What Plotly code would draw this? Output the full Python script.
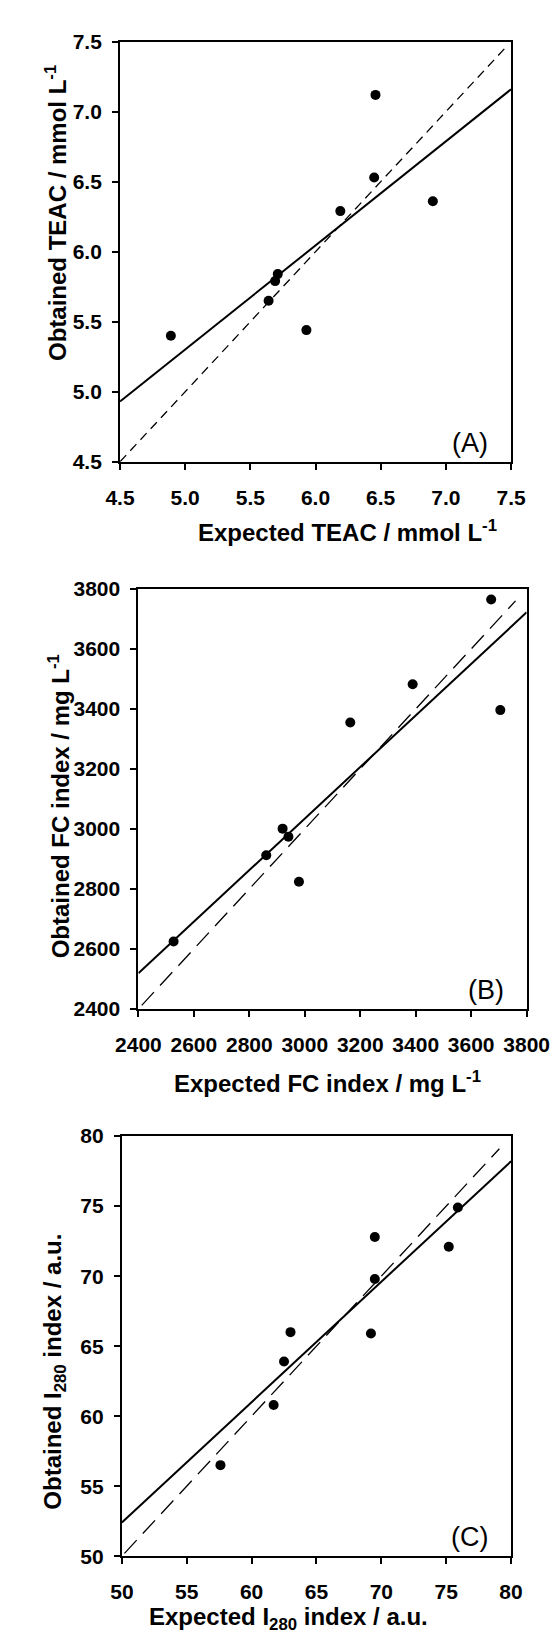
"""
Obtained vs expected values for three indices (TEAC, FC, I280).
"""

import plotly.graph_objects as go

# panel A: TEAC / mmol L-1
teac_expected = [4.89, 5.64, 5.69, 5.71, 5.93, 6.19, 6.45, 6.46, 6.90]
teac_obtained = [5.40, 5.65, 5.79, 5.84, 5.44, 6.29, 6.53, 7.12, 6.36]
teac_fit_x = [4.5, 7.5]
teac_fit_y = [4.93, 7.16]
teac_ref = [4.5, 7.45]

# panel B: FC index / mg L-1
fc_expected = [2527, 2861, 2920, 2941, 2979, 3164, 3389, 3672, 3705]
fc_obtained = [2625, 2912, 3001, 2974, 2824, 3355, 3482, 3765, 3396]
fc_fit_x = [2400, 3800]
fc_fit_y = [2519, 3722]
fc_ref = [2412, 3760]

# panel C: I280 index / a.u.
i280_expected = [57.6, 61.7, 62.5, 63.0, 69.2, 69.5, 69.5, 75.2, 75.9]
i280_obtained = [56.5, 60.8, 63.9, 66.0, 65.9, 69.8, 72.8, 72.1, 74.9]
i280_fit_x = [50, 80]
i280_fit_y = [52.4, 78.2]
i280_ref = [50.2, 79.1]

W, H = 560, 1641
FONT = "Liberation Sans, Arial, sans-serif"

# plot areas in pixels: (left, right, top, bottom)
BOXES = [(97, 523, 22, 448), (117, 540, 577, 1003), (99, 523, 1132, 1558)]
# axis title positions in pixels: x title (cx, cy), y title (cx, cy)
XTITLE_POS = [(345, 518), (323, 1077), (280, 1621)]
YTITLE_POS = [(27, 196), (30, 798), (26, 1371)]

PANELS = [
    dict(x=teac_expected, y=teac_obtained, fx=teac_fit_x, fy=teac_fit_y, ref=teac_ref,
         rng=[4.5, 7.5], dtick=0.5, fmt=".1f", dash="9px,6px", label="(A)",
         xtitle="Expected TEAC / mmol L<sup>-1</sup>",
         ytitle="Obtained TEAC / mmol L<sup>-1</sup>"),
    dict(x=fc_expected, y=fc_obtained, fx=fc_fit_x, fy=fc_fit_y, ref=fc_ref,
         rng=[2400, 3800], dtick=200, fmt="d", dash="18px,9px", label="(B)",
         xtitle="Expected FC index / mg L<sup>-1</sup>",
         ytitle="Obtained FC index / mg L<sup>-1</sup>"),
    dict(x=i280_expected, y=i280_obtained, fx=i280_fit_x, fy=i280_fit_y, ref=i280_ref,
         rng=[50, 80], dtick=5, fmt="d", dash="18px,9px", label="(C)",
         xtitle="Expected I<sub>280</sub> index / a.u.",
         ytitle="Obtained I<sub>280</sub> index / a.u."),
]

AXIS = dict(
    showline=True,
    linewidth=2,
    linecolor="black",
    mirror=True,
    ticks="outside",
    ticklen=6,
    tickwidth=2,
    tickcolor="black",
    showgrid=False,
    zeroline=False,
    tickfont=dict(family=FONT, size=21, color="black", weight="bold"),
)
TITLE_FONT = dict(family=FONT, size=24, color="black", weight="bold")

fig = go.Figure()
layout = {}

for i, (p, box) in enumerate(zip(PANELS, BOXES)):
    n = "" if i == 0 else str(i + 1)
    xa, ya = "x" + n, "y" + n
    left, right, top, bottom = box

    # 1:1 reference line
    fig.add_trace(go.Scatter(x=p["ref"], y=p["ref"], mode="lines", xaxis=xa, yaxis=ya,
                             line=dict(color="black", width=1.3, dash=p["dash"])))
    # regression line
    fig.add_trace(go.Scatter(x=p["fx"], y=p["fy"], mode="lines", xaxis=xa, yaxis=ya,
                             line=dict(color="black", width=2)))
    fig.add_trace(go.Scatter(x=p["x"], y=p["y"], mode="markers", xaxis=xa, yaxis=ya,
                             marker=dict(color="black", size=10)))

    layout["xaxis" + n] = dict(
        AXIS, domain=[left / W, right / W], anchor=ya, range=p["rng"],
        dtick=p["dtick"], tick0=p["rng"][0], tickformat=p["fmt"], ticklabelstandoff=10,
    )
    layout["yaxis" + n] = dict(
        AXIS, domain=[1 - bottom / H, 1 - top / H], anchor=xa, range=p["rng"],
        dtick=p["dtick"], tick0=p["rng"][0], tickformat=p["fmt"], ticklabelstandoff=6,
    )

    # axis titles placed by hand, they are not centred on the plot area
    cx, cy = XTITLE_POS[i]
    fig.add_annotation(text=p["xtitle"], xref="paper", yref="paper", x=cx / W, y=1 - cy / H,
                       xanchor="center", yanchor="middle", showarrow=False, font=TITLE_FONT)
    cx, cy = YTITLE_POS[i]
    fig.add_annotation(text=p["ytitle"], xref="paper", yref="paper", x=cx / W, y=1 - cy / H,
                       xanchor="center", yanchor="middle", textangle=-90, showarrow=False,
                       font=TITLE_FONT)

    fig.add_annotation(text=p["label"], xref=xa + " domain", yref=ya + " domain",
                       x=0.946, y=0.005, xanchor="right", yanchor="bottom", showarrow=False,
                       font=dict(family=FONT, size=27, color="black"))

fig.update_layout(
    **layout,
    width=W,
    height=H,
    margin=dict(l=0, r=0, t=0, b=0),
    showlegend=False,
    plot_bgcolor="#ffffff",
    paper_bgcolor="#ffffff",
)

fig.write_html("out.html")
